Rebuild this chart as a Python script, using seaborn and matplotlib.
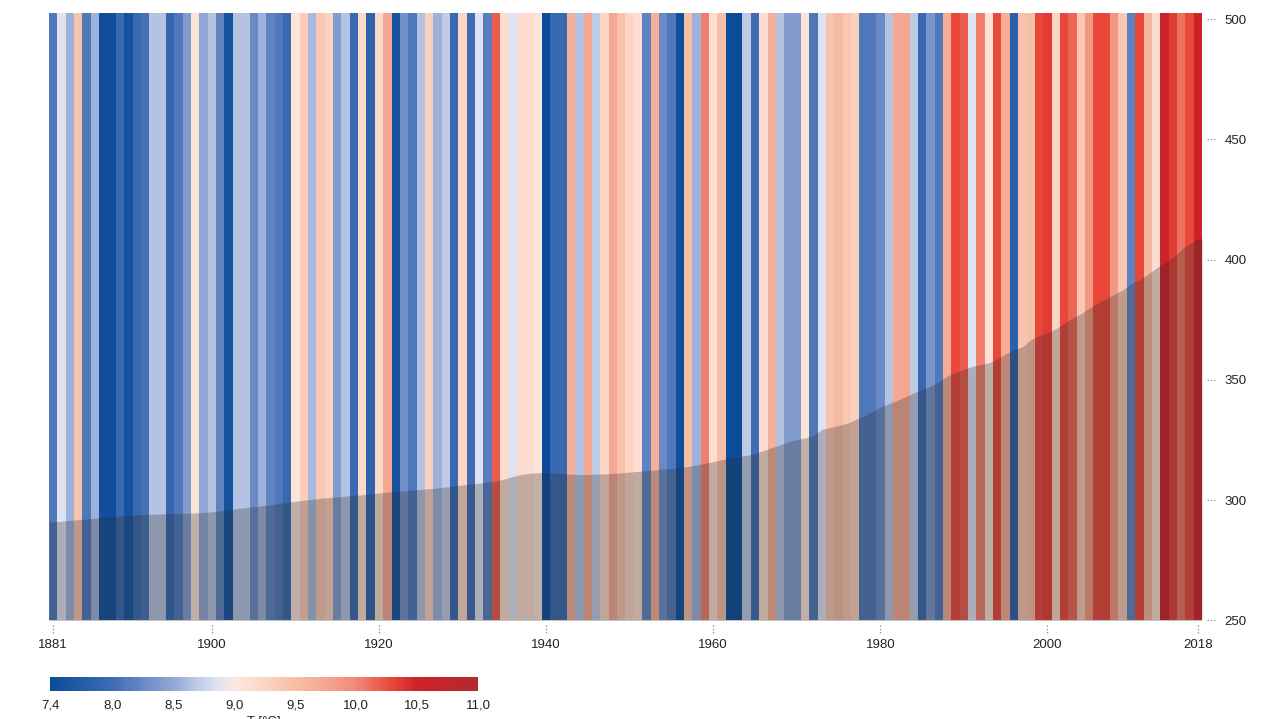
import numpy as np, matplotlib
matplotlib.use('Agg')
import matplotlib.pyplot as plt
import matplotlib.transforms as mtransforms
from matplotlib.colors import LinearSegmentedColormap
import seaborn as sns

sns.set_theme(style='white')
plt.rcParams['font.family'] = ['Liberation Sans', 'DejaVu Sans']

# ── data ────────────────────────────────────────────────────────
years = np.arange(1881, 2019)
temp = [
    8.10, 8.85, 8.55, 9.45, 8.10, 8.55, 7.55, 7.55, 7.95, 7.60,   # 1881-1890
    7.95, 8.05, 8.65, 8.65, 7.90, 8.10, 8.40, 9.05, 8.50, 8.65,   # 1891-1900
    8.20, 7.60, 8.65, 8.65, 8.25, 8.55, 8.20, 8.10, 7.95, 9.05,   # 1901-1910
    9.35, 8.60, 9.40, 9.30, 8.40, 8.65, 7.95, 9.20, 7.85, 9.20,   # 1911-1920
    9.75, 7.60, 8.30, 8.10, 8.65, 9.30, 8.55, 8.70, 7.95, 9.25,   # 1921-1930
    8.00, 8.85, 8.15, 10.20, 9.15, 8.85, 9.15, 9.15, 9.05, 7.50,  # 1931-1940
    7.95, 7.95, 9.65, 8.65, 9.75, 8.70, 9.25, 9.75, 9.45, 9.25,   # 1941-1950
    9.15, 8.20, 9.65, 8.25, 8.10, 7.55, 9.50, 8.55, 10.05, 9.15,  # 1951-1960
    9.50, 7.50, 7.50, 8.70, 8.00, 9.15, 9.65, 8.65, 8.40, 8.40,   # 1961-1970
    9.05, 8.10, 8.85, 9.45, 9.55, 9.40, 9.30, 8.10, 8.10, 8.25,   # 1971-1980
    8.65, 9.75, 9.75, 8.70, 7.95, 8.35, 8.10, 9.70, 10.30, 10.20, # 1981-1990
    8.85, 10.05, 9.10, 10.30, 9.70, 7.80, 9.45, 9.50, 10.30, 10.35,  # 1991-2000
    9.25, 10.30, 10.15, 9.40, 9.90, 10.30, 10.30, 9.90, 9.40, 8.20,  # 2001-2010
    10.30, 9.60, 9.15, 10.55, 10.35, 10.10, 10.30, 10.55,            # 2011-2018
]
co2 = [
    291.0, 291.3, 291.6, 291.9, 292.2, 292.5, 292.8, 293.1, 293.4, 293.7,
    293.9, 294.1, 294.2, 294.3, 294.4, 294.5, 294.6, 294.7, 294.9, 295.2,
    295.6, 296.1, 296.5, 296.9, 297.3, 297.7, 298.1, 298.6, 299.1, 299.6,
    300.0, 300.4, 300.8, 301.1, 301.4, 301.7, 302.0, 302.3, 302.6, 303.0,
    303.3, 303.6, 303.9, 304.2, 304.5, 304.8, 305.1, 305.5, 305.9, 306.3,
    306.7, 307.1, 307.5, 308.0, 308.8, 309.8, 310.7, 311.2, 311.4, 311.5,
    311.3, 311.0, 310.8, 310.7, 310.7, 310.8, 310.9, 311.1, 311.4, 311.7,
    312.0, 312.3, 312.6, 312.9, 313.2, 313.5, 314.0, 314.6, 315.3, 316.0,
    316.8, 317.5, 318.1, 318.6, 319.4, 320.6, 321.9, 323.0, 324.2, 325.2,
    325.9, 326.9, 329.4, 330.3, 331.0, 331.9, 333.5, 335.0, 336.8, 338.7,
    340.1, 341.4, 343.0, 344.6, 346.0, 347.4, 349.2, 351.6, 353.1, 354.4,
    355.6, 356.4, 357.1, 358.8, 360.8, 362.6, 363.7, 366.7, 368.4, 369.7,
    371.3, 373.5, 375.8, 377.5, 379.8, 381.9, 383.8, 385.6, 387.4, 389.9,
    391.6, 393.9, 396.5, 398.6, 400.8, 404.2, 406.6, 408.7,
]
year_ticks = [1881, 1900, 1920, 1940, 1960, 1980, 2000, 2018]
co2_ticks = [250, 300, 350, 400, 450, 500]
cbar_ticks = [7.49, 8.0, 8.5, 9.0, 9.5, 10.0, 10.5, 11.0]
cbar_labels = ['7,4', '8,0', '8,5', '9,0', '9,5', '10,0', '10,5', '11,0']

# colour scale similar to the stripes legend
stops = [(0.0, '#0b4c9a'), (0.145, '#3f6cb3'), (0.288, '#93a8d6'),
         (0.33, '#b4c3e1'), (0.39, '#dfe3f1'), (0.43, '#fbe8de'),
         (0.50, '#fcd6c6'), (0.573, '#f7bea6'), (0.66, '#f4a28c'),
         (0.715, '#ef8a78'), (0.80, '#e8473a'), (0.858, '#cf2229'),
         (1.0, '#b22a30')]
cmap = LinearSegmentedColormap.from_list('stripes', stops)

fig = plt.figure(figsize=(12.8, 7.19), dpi=100)
ax = fig.add_axes([0.03828, 0.1370, 0.90078, 0.8449])
cax = fig.add_axes([0.0391, 0.0389, 0.3344, 0.0195])

sns.heatmap(np.array(temp)[None, :], ax=ax, cmap=cmap,
            vmin=cbar_ticks[0], vmax=cbar_ticks[-1], linewidths=0,
            xticklabels=False, yticklabels=False, cbar_ax=cax,
            cbar_kws={'orientation': 'horizontal'})

n = len(years)
idx = [list(years).index(y) + 0.5 for y in year_ticks]
ax.set_xticks(idx)
ax.set_xticklabels([str(y) for y in year_ticks], fontsize=9.5, color='#222')
ax.tick_params(axis='x', length=0, pad=13, bottom=True)
for s in ax.spines.values():
    s.set_visible(False)

# CO2 overlay on a twin axis
ax2 = ax.twinx()
xs = np.r_[0, np.arange(n) + 0.5, n]
ys = np.r_[co2[0], co2, co2[-1]]
ax2.fill_between(xs, co2_ticks[0], ys, color='#2a2a2a', alpha=0.28, lw=0)
ax2.set_ylim(250, 502.5)
ax2.set_xlim(0, n)
ax2.set_yticks(co2_ticks)
ax2.set_yticklabels([str(v) for v in co2_ticks], fontsize=9.5, color='#222')
ax2.tick_params(axis='y', length=0, pad=16, right=True)
for s in ax2.spines.values():
    s.set_visible(False)

# dotted tick marks
tr_y = mtransforms.blended_transform_factory(ax2.transAxes, ax2.transData)
for v in co2_ticks:
    ax2.plot([1.0045, 1.011], [v, v], transform=tr_y, ls=':', lw=0.9,
             color='#888', clip_on=False)
tr_x = mtransforms.blended_transform_factory(ax.transData, ax.transAxes)
for x in idx:
    ax.plot([x, x], [-0.007, -0.021], transform=tr_x, ls=':', lw=0.9,
            color='#888', clip_on=False)

cbar = ax.collections[0].colorbar
cbar.outline.set_visible(False)
cbar.set_ticks(cbar_ticks)
cbar.set_ticklabels(cbar_labels)
cax.tick_params(length=0, labelsize=9.5, pad=6, labelcolor='#222')
cax.set_xlabel('T [°C]', fontsize=9.5, labelpad=3, color='#222')

plt.savefig('out.png', dpi=100)
plt.close()
